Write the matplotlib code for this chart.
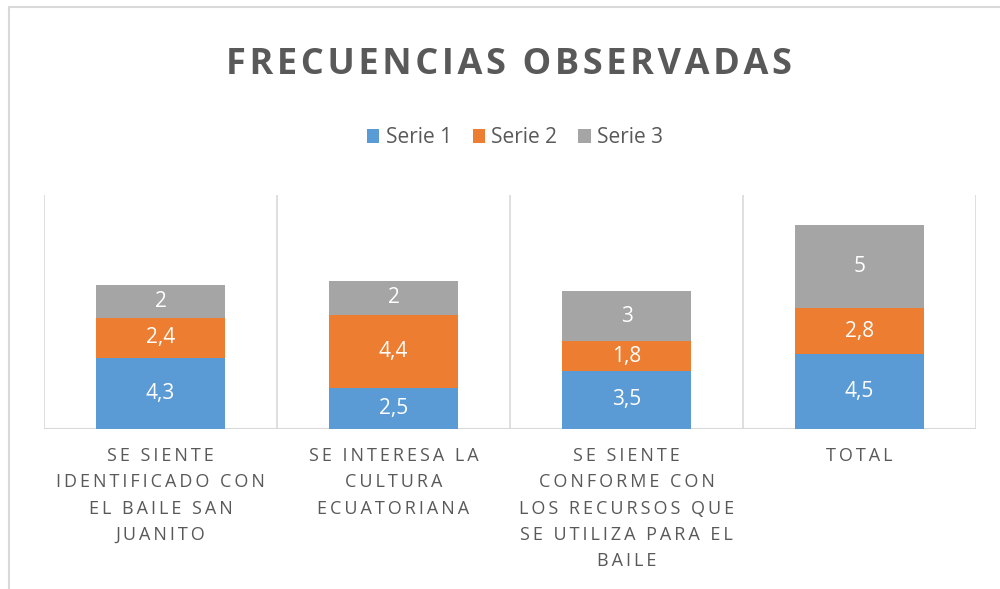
import numpy as np
import matplotlib
matplotlib.use('Agg')
import matplotlib.pyplot as plt
from matplotlib.patches import Rectangle, Patch

# =======================
#  Data
# =======================
categories = [
    "SE SIENTE\nIDENTIFICADO CON\nEL BAILE SAN\nJUANITO",
    "SE INTERESA LA\nCULTURA\nECUATORIANA",
    "SE SIENTE\nCONFORME CON\nLOS RECURSOS QUE\nSE UTILIZA PARA EL\nBAILE",
    "TOTAL",
]
serie1 = [4.3, 2.5, 3.5, 4.5]
serie2 = [2.4, 4.4, 1.8, 2.8]
serie3 = [2, 2, 3, 5]
series_names = ["Serie 1", "Serie 2", "Serie 3"]

COLORS = ["#5B9BD5", "#ED7D31", "#A5A5A5"]
TEXT_GRAY = "#595959"
GRID_GRAY = "#D9D9D9"

plt.rcParams['font.family'] = ['Open Sans', 'DejaVu Sans']


def spaced(text, gap="\u2009"):
    # fake letter spacing like the Excel labels
    lines = []
    for ln in text.split("\n"):
        words = [gap.join(w) for w in ln.split(" ")]
        lines.append((gap + " " + gap).join(words))
    return "\n".join(lines)


def fmt(v):
    return (f"{v:g}").replace(".", ",")


# =======================
#  Figure
# =======================
fig = plt.figure(figsize=(10, 5.89), dpi=100)
fig.patches.append(Rectangle((0.009, -0.1), 1.2, 1.088, transform=fig.transFigure,
                             fill=False, edgecolor=GRID_GRAY, linewidth=1.5))

ax = fig.add_axes([0.044, 0.2716, 0.932, 0.3973])
x = np.arange(len(categories))
width = 0.55

bottom = np.zeros(len(categories))
for vals, col in zip([serie1, serie2, serie3], COLORS):
    vals = np.array(vals, dtype=float)
    bars = ax.bar(x, vals, width, bottom=bottom, color=col, zorder=3)
    for b, v, bt in zip(bars, vals, bottom):
        ax.text(b.get_x() + b.get_width() / 2, bt + v / 2, fmt(v),
                ha='center', va='center', color='white', fontsize=15, zorder=4)
    bottom += vals

ax.set_xlim(-0.5, len(categories) - 0.5)
ax.set_ylim(0, 14.1)
for b in np.arange(-0.5, len(categories), 1.0):
    ax.axvline(b, color=GRID_GRAY, linewidth=1.2, zorder=1)
ax.axhline(0, color=GRID_GRAY, linewidth=1.5, zorder=2)

for s in ax.spines.values():
    s.set_visible(False)
ax.set_yticks([])
ax.set_xticks(x)
ax.set_xticklabels([spaced(c) for c in categories], color=TEXT_GRAY, fontsize=13,
                   linespacing=1.59, va='top')
ax.tick_params(axis='x', length=0, pad=13)

fig.text(0.509, 0.89, spaced("FRECUENCIAS OBSERVADAS", gap="\u200a"), ha='center', va='center',
         fontsize=26, fontweight='bold', color=TEXT_GRAY)

handles = [Patch(facecolor=c) for c in COLORS]
fig.legend(handles, series_names, loc='center', bbox_to_anchor=(0.515, 0.766),
           ncol=3, frameon=False, fontsize=15, labelcolor=TEXT_GRAY,
           handlelength=0.6, handleheight=0.6, handletextpad=0.3, columnspacing=1.0)

fig.savefig("out.png", dpi=100, facecolor='white')
